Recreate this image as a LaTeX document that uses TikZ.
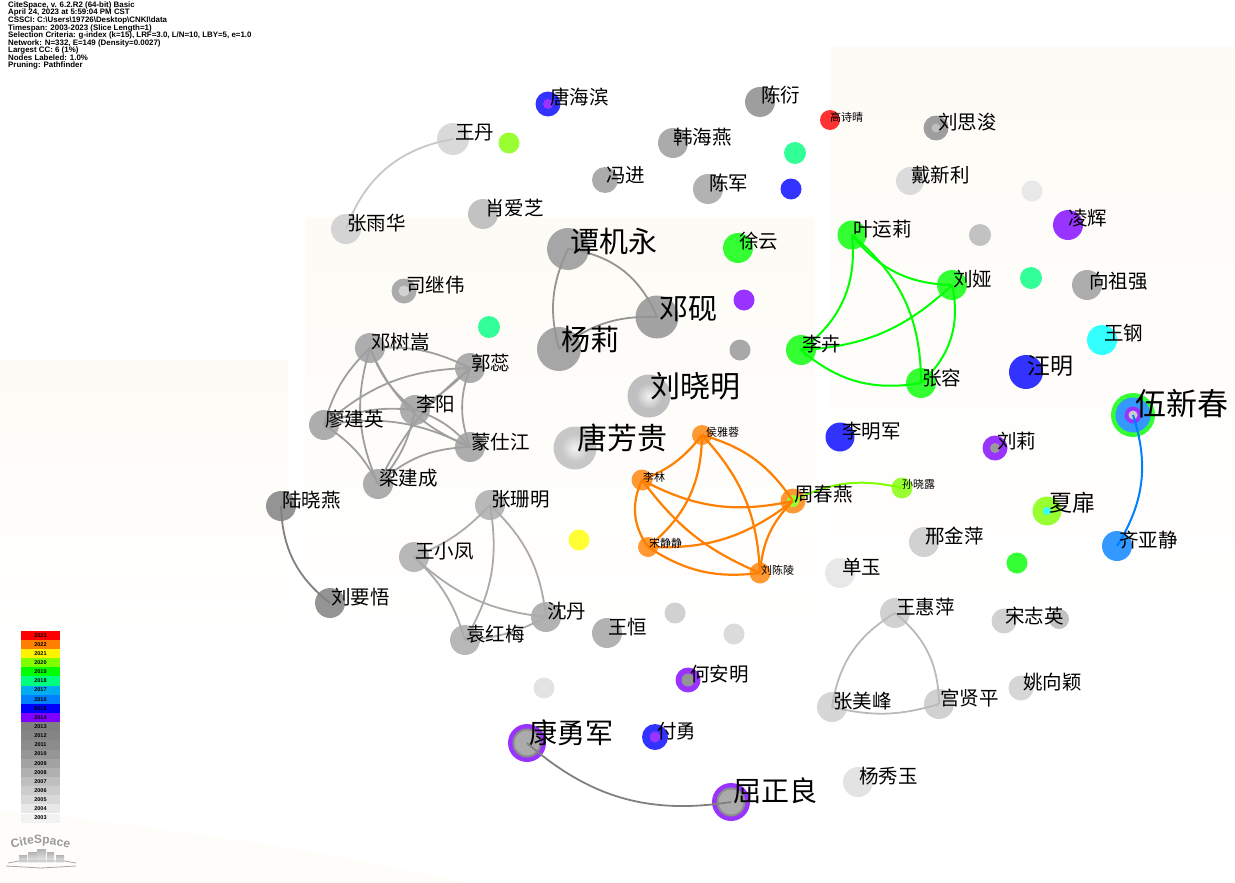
\documentclass[tikz,border=0pt]{standalone}
\usepackage{fontspec}
\setmainfont{Liberation Sans}
\newfontfamily\cjk{Noto Sans CJK SC}
\usetikzlibrary{decorations.text}
\definecolor{paper}{RGB}{253,251,245}
\definecolor{citred}{RGB}{255,51,51}
\definecolor{citorange}{RGB}{255,153,51}
\definecolor{cityellow}{RGB}{255,255,51}
\definecolor{citlime}{RGB}{153,255,51}
\definecolor{citgreen}{RGB}{51,255,51}
\definecolor{citteal}{RGB}{51,255,153}
\definecolor{citcyan}{RGB}{51,255,255}
\definecolor{citsky}{RGB}{51,153,255}
\definecolor{citblue}{RGB}{51,51,255}
\definecolor{citpurple}{RGB}{153,51,255}
\definecolor{yorange}{RGB}{255,128,0}
\definecolor{ylime}{RGB}{128,255,0}
\definecolor{yteal}{RGB}{0,255,128}
\definecolor{ysky}{RGB}{0,128,255}
\definecolor{ypurple}{RGB}{128,0,255}
\tikzset{
    author/.style={circle, inner sep=0pt, draw=none},
    tagS/.style={anchor=west, inner sep=0pt, font=\cjk\fontsize{11}{11}\selectfont},
    tagM/.style={anchor=west, inner sep=0pt, font=\cjk\fontsize{19.5}{19.5}\selectfont},
    tagL/.style={anchor=west, inner sep=0pt, font=\cjk\fontsize{23}{23}\selectfont},
    tagX/.style={anchor=west, inner sep=0pt, font=\cjk\fontsize{29}{29}\selectfont},
    link/.style={line width=1.8pt, gray!75},
    glink/.style={line width=2pt, green},
    olink/.style={line width=2.2pt, yorange},
    legbox/.style={rectangle, inner sep=0pt, minimum width=39pt, minimum height=9.14pt, font=\bfseries\fontsize{5.5}{5.5}\selectfont}
}
\begin{document}
\begin{tikzpicture}[x=1pt,y=-1pt]
    \useasboundingbox (0,0) rectangle (1235,883);
    % background patches
    \shade[top color=paper, bottom color=white, draw=none] (305,217) rectangle (815,640);
    \shade[top color=paper, bottom color=white, draw=none] (830,48) rectangle (1235,620);
    \shade[top color=paper, bottom color=white, draw=none] (0,360) rectangle (288,640);
    \fill[paper!60] (0,810) .. controls (150,825) and (320,850) .. (470,883) -- (0,883) -- cycle;

    % header
    \node[anchor=north west, inner sep=0pt, align=left, font=\bfseries\fontsize{7.9}{7.55}\selectfont] (head) at (8,1.5) {CiteSpace, v. 6.2.R2 (64-bit) Basic\\April 24, 2023 at 5:59:04 PM CST\\CSSCI: C:\textbackslash Users\textbackslash 19726\textbackslash Desktop\textbackslash CNKI\textbackslash data\\Timespan: 2003-2023 (Slice Length=1)\\Selection Criteria: g-index (k=15), LRF=3.0, L/N=10, LBY=5, e=1.0\\Network: N=332, E=149 (Density=0.0027)\\Largest CC: 6 (1\%)\\Nodes Labeled: 1.0\%\\Pruning: Pathfinder};

    % legend
    \node[legbox, fill=red] (y23) at (40.5,635.3) {2023};
    \node[legbox, fill=yorange] (y22) at (40.5,644.4) {2022};
    \node[legbox, fill=yellow] (y21) at (40.5,653.6) {2021};
    \node[legbox, fill=ylime] (y20) at (40.5,662.7) {2020};
    \node[legbox, fill=green] (y19) at (40.5,671.8) {2019};
    \node[legbox, fill=yteal] (y18) at (40.5,681) {2018};
    \node[legbox, fill=cyan] (y17) at (40.5,690.1) {2017};
    \node[legbox, fill=ysky] (y16) at (40.5,699.3) {2016};
    \node[legbox, fill=blue] (y15) at (40.5,708.4) {2015};
    \node[legbox, fill=ypurple] (y14) at (40.5,717.5) {2014};
    \node[legbox, fill=black!50] (y13) at (40.5,726.7) {2013};
    \node[legbox, fill=black!48] (y12) at (40.5,735.8) {2012};
    \node[legbox, fill=black!45] (y11) at (40.5,745) {2011};
    \node[legbox, fill=black!41] (y10) at (40.5,754.1) {2010};
    \node[legbox, fill=black!36] (y09) at (40.5,763.2) {2009};
    \node[legbox, fill=black!31] (y08) at (40.5,772.4) {2008};
    \node[legbox, fill=black!25] (y07) at (40.5,781.5) {2007};
    \node[legbox, fill=black!20] (y06) at (40.5,790.7) {2006};
    \node[legbox, fill=black!15] (y05) at (40.5,799.8) {2005};
    \node[legbox, fill=black!9] (y04) at (40.5,808.9) {2004};
    \node[legbox, fill=black!5] (y03) at (40.5,818.1) {2003};

    % logo
    \path[decorate, decoration={text along path, text align=center, text color=gray!80, text={|\bfseries\fontsize{12}{12}\selectfont|CiteSpace}}] (11,849) .. controls (30,842) and (50,842) .. (70,849);
    \shade[top color=gray!60, bottom color=gray!15] (19,855) rectangle (27,862);
    \shade[top color=gray!60, bottom color=gray!15] (28,852) rectangle (37,862);
    \shade[top color=gray!60, bottom color=gray!15] (37,849) rectangle (46,862);
    \shade[top color=gray!60, bottom color=gray!15] (47,852) rectangle (54,862);
    \shade[top color=gray!60, bottom color=gray!15] (56,855) rectangle (64,862);
    \draw[gray!70, line width=0.8pt] (6,866) -- (41,868) -- (76,866);
    \draw[gray!70, line width=0.8pt] (8,863) -- (19,861) -- (64,861) -- (76,863);

    % authors
    \node[author, minimum size=32pt, fill=black!15] (wdan) at (453,139) {};
    \node[author, minimum size=21pt, fill=citlime] (a1) at (509,143) {};
    \node[author, minimum size=25pt, fill=citblue] (thb) at (548,104) {};
    \node[author, minimum size=10pt, fill=citpurple] (thbin) at (548,104) {};
    \node[author, minimum size=30pt, fill=black!38] (cyan) at (760,102) {};
    \node[author, minimum size=20pt, fill=citred] (gsq) at (830,120) {};
    \node[author, minimum size=25pt, fill=black!38] (lsj) at (936,128) {};
    \node[author, minimum size=9pt, fill=black!25] (lsjin) at (936,128) {};
    \node[author, minimum size=30pt, fill=black!33] (hhy) at (673,143) {};
    \node[author, minimum size=26pt, fill=black!33] (fjin) at (605,180) {};
    \node[author, minimum size=30pt, fill=black!30] (cjun) at (708,189) {};
    \node[author, minimum size=22pt, fill=citteal] (a2) at (795,153) {};
    \node[author, minimum size=21pt, fill=citblue] (a3) at (791,189) {};
    \node[author, minimum size=28pt, fill=black!14] (dxl) at (910,181) {};
    \node[author, minimum size=21pt, fill=black!9] (a4) at (1032,191) {};
    \node[author, minimum size=30pt, fill=citpurple] (lhui) at (1068,225) {};
    \node[author, minimum size=30pt, fill=black!24] (xaz) at (483,214) {};
    \node[author, minimum size=30pt, fill=black!17] (zyh) at (346,229) {};
    \node[author, minimum size=42pt, fill=black!35] (tjy) at (568,249) {};
    \node[author, minimum size=30pt, fill=citgreen] (xyun) at (738,248) {};
    \node[author, minimum size=29pt, fill=citgreen] (yyl) at (852,235) {};
    \node[author, minimum size=22pt, fill=black!24] (a5) at (980,235) {};
    \node[author, minimum size=30pt, fill=citgreen] (lya) at (952,285) {};
    \node[author, minimum size=22pt, fill=citteal] (a6) at (1031,278) {};
    \node[author, minimum size=30pt, fill=black!32] (xzq) at (1087,285) {};
    \node[author, minimum size=25pt, fill=black!33] (sjw) at (404,291) {};
    \node[author, minimum size=11pt, fill=black!18] (sjwin) at (404,291) {};
    \node[author, minimum size=21pt, fill=citpurple] (a7) at (744,300) {};
    \node[author, minimum size=43pt, fill=black!36] (dyan) at (657,317) {};
    \node[author, minimum size=44pt, fill=black!35] (yli) at (559,349) {};
    \node[author, minimum size=30pt, fill=citcyan] (wgang) at (1102,340) {};
    \node[author, minimum size=22pt, fill=citteal] (a8) at (489,327) {};
    \node[author, minimum size=30pt, fill=black!32] (dss) at (370,348) {};
    \node[author, minimum size=21pt, fill=black!34] (a9) at (740,350) {};
    \node[author, minimum size=30pt, fill=citgreen] (lhui2) at (801,350) {};
    \node[author, minimum size=30pt, fill=black!32] (grui) at (470,368) {};
    \node[author, minimum size=30pt, fill=citgreen] (zrong) at (921,383) {};
    \node[author, minimum size=34pt, fill=citblue] (wming) at (1026,372) {};
    \node[author, minimum size=43pt, fill=black!25] (lxm) at (649,396) {};
    \shade[inner color=black!5, outer color=black!25] (649,396) circle (13);
    \node[author, minimum size=30pt, fill=black!32] (lyang) at (415,410) {};
    \node[author, minimum size=44pt, fill=citgreen] (wxc) at (1133,415) {};
    \node[author, minimum size=35pt, fill=citsky] (wxc2) at (1133,415) {};
    \node[author, minimum size=17pt, fill=citpurple] (wxc3) at (1133,415) {};
    \node[author, minimum size=9pt, fill=black!20] (wxc4) at (1133,415) {};
    \node[author, minimum size=30pt, fill=black!32] (ljy) at (324,425) {};
    \node[author, minimum size=30pt, fill=black!32] (msj) at (470,447) {};
    \node[author, minimum size=43pt, fill=black!22] (tfg) at (575,448) {};
    \shade[inner color=black!5, outer color=black!22] (575,448) circle (14);
    \node[author, minimum size=29pt, fill=citblue] (lmj) at (840,437) {};
    \node[author, minimum size=25pt, fill=citpurple] (lli) at (995,448) {};
    \node[author, minimum size=10pt, fill=black!40] (lliin) at (995,448) {};
    \node[author, minimum size=20pt, fill=citorange] (hyr) at (702,435) {};
    \node[author, minimum size=21pt, fill=citorange] (llin) at (642,480) {};
    \node[author, minimum size=25pt, fill=citorange] (zcy) at (793,501) {};
    \node[author, minimum size=12pt, fill=citlime] (zcyin) at (793,501) {};
    \node[author, minimum size=21pt, fill=citlime] (sxl) at (902,488) {};
    \node[author, minimum size=30pt, fill=black!32] (ljc) at (378,484) {};
    \node[author, minimum size=30pt, fill=black!42] (lxy) at (281,506) {};
    \node[author, minimum size=30pt, fill=black!28] (zsm) at (490,505) {};
    \node[author, minimum size=29pt, fill=citlime] (xfei) at (1047,511) {};
    \node[author, minimum size=8pt, fill=citcyan] (xfeiin) at (1047,511) {};
    \node[author, minimum size=30pt, fill=black!18] (xjp) at (924,542) {};
    \node[author, minimum size=30pt, fill=citsky] (qyj) at (1117,546) {};
    \node[author, minimum size=21pt, fill=cityellow] (a10) at (579,540) {};
    \node[author, minimum size=20pt, fill=citorange] (sjj) at (648,547) {};
    \node[author, minimum size=30pt, fill=black!28] (wxf) at (414,557) {};
    \node[author, minimum size=21pt, fill=citgreen] (a11) at (1017,563) {};
    \node[author, minimum size=21pt, fill=citorange] (lcl) at (760,573) {};
    \node[author, minimum size=30pt, fill=black!9] (syu) at (840,573) {};
    \node[author, minimum size=30pt, fill=black!42] (lyw) at (330,603) {};
    \node[author, minimum size=30pt, fill=black!18] (whp) at (895,613) {};
    \node[author, minimum size=25pt, fill=black!18] (szy) at (1004,621) {};
    \node[author, minimum size=20pt, fill=black!24] (a12) at (1059,619) {};
    \node[author, minimum size=30pt, fill=black!30] (sdan) at (546,617) {};
    \node[author, minimum size=21pt, fill=black!18] (a13) at (675,613) {};
    \node[author, minimum size=30pt, fill=black!30] (wheng) at (607,633) {};
    \node[author, minimum size=30pt, fill=black!28] (yhm) at (465,640) {};
    \node[author, minimum size=21pt, fill=black!14] (a14) at (734,634) {};
    \node[author, minimum size=25pt, fill=citpurple] (ham) at (688,680) {};
    \node[author, minimum size=13pt, fill=black!42] (hamin) at (688,680) {};
    \node[author, minimum size=25pt, fill=black!16] (yxy) at (1021,688) {};
    \node[author, minimum size=21pt, fill=black!11] (a15) at (544,688) {};
    \node[author, minimum size=30pt, fill=black!16] (zmf) at (832,707) {};
    \node[author, minimum size=30pt, fill=black!18] (gxp) at (939,704) {};
    \node[author, minimum size=38pt, fill=citpurple] (kyj) at (527,743) {};
    \node[author, minimum size=29pt, fill=black!45] (kyj2) at (527,743) {};
    \node[author, minimum size=25pt, fill=black!33] (kyj3) at (527,743) {};
    \node[author, minimum size=26pt, fill=citblue] (fyong) at (655,737) {};
    \node[author, minimum size=11pt, fill=citpurple] (fyongin) at (655,737) {};
    \node[author, minimum size=38pt, fill=citpurple] (qzl) at (731,802) {};
    \node[author, minimum size=29pt, fill=black!45] (qzl2) at (731,802) {};
    \node[author, minimum size=25pt, fill=black!33] (qzl3) at (731,802) {};
    \node[author, minimum size=30pt, fill=black!11] (yxyu) at (858,782) {};

    % links, gray clusters
    \draw[link, black!22] (zyh.center) to[bend left=30] (wdan.center);
    \draw[link, black!42] (tjy.center) to[bend left=30] (dyan.center);
    \draw[link, black!42] (yli.center) to[bend left=20] (dyan.center);
    \draw[link, black!42] (tjy.center) to[bend right=20] (yli.center);
    \draw[link] (dss.center) to[bend left=15] (grui.center);
    \draw[link] (dss.center) to[bend right=15] (lyang.center);
    \draw[link] (dss.center) to[bend right=22] (msj.center);
    \draw[link] (dss.center) to[bend right=15] (ljy.center);
    \draw[link] (dss.center) to[bend right=20] (ljc.center);
    \draw[link] (grui.center) to[bend left=8] (lyang.center);
    \draw[link] (grui.center) to[bend right=12] (ljc.center);
    \draw[link] (grui.center) to[bend right=20] (ljy.center);
    \draw[link] (grui.center) to[bend right=20] (msj.center);
    \draw[link] (lyang.center) to[bend right=15] (ljy.center);
    \draw[link] (ljy.center) to[bend left=18] (msj.center);
    \draw[link] (lyang.center) to[bend left=15] (msj.center);
    \draw[link] (lyang.center) to[bend left=15] (ljc.center);
    \draw[link] (ljy.center) to[bend left=15] (ljc.center);
    \draw[link] (ljc.center) to[bend left=20] (msj.center);
    \draw[link, black!33] (zsm.center) to[bend left=12] (wxf.center);
    \draw[link, black!33] (zsm.center) to[bend left=20] (sdan.center);
    \draw[link, black!33] (zsm.center) to[bend left=20] (yhm.center);
    \draw[link, black!33] (wxf.center) to[bend right=18] (sdan.center);
    \draw[link, black!33] (wxf.center) to[bend left=15] (yhm.center);
    \draw[link, black!33] (yhm.center) to[bend right=12] (sdan.center);
    \draw[link, black!50] (lxy.center) to[bend right=25] (lyw.center);
    \draw[link, black!27] (whp.center) to[bend right=25] (zmf.center);
    \draw[link, black!27] (whp.center) to[bend left=25] (gxp.center);
    \draw[link, black!27] (zmf.center) to[bend right=15] (gxp.center);
    \draw[link, black!50] (kyj.center) to[bend right=25] (qzl.center);

    % links, coloured clusters
    \draw[glink] (yyl.center) to[bend left=30] (lhui2.center);
    \draw[glink] (yyl.center) to[bend right=25] (lya.center);
    \draw[glink] (yyl.center) to[bend left=25] (zrong.center);
    \draw[glink] (lya.center) to[bend left=20] (lhui2.center);
    \draw[glink] (lya.center) to[bend left=30] (zrong.center);
    \draw[glink] (lhui2.center) to[bend right=25] (zrong.center);
    \draw[olink] (hyr.center) to[bend left=15] (llin.center);
    \draw[olink] (hyr.center) to[bend left=25] (sjj.center);
    \draw[olink] (hyr.center) to[bend left=20] (zcy.center);
    \draw[olink] (hyr.center) to[bend left=20] (lcl.center);
    \draw[olink] (llin.center) to[bend right=20] (zcy.center);
    \draw[olink] (llin.center) to[bend right=30] (sjj.center);
    \draw[olink] (llin.center) to[bend right=15] (lcl.center);
    \draw[olink] (sjj.center) to[bend right=20] (zcy.center);
    \draw[olink] (sjj.center) to[bend right=20] (lcl.center);
    \draw[olink] (lcl.center) to[bend left=20] (zcy.center);
    \draw[glink, ylime] (zcy.center) to[bend left=20] (sxl.center);
    \draw[glink, ysky] (wxc.center) to[bend left=25] (qyj.center);

    % labels
    \node[tagM] (twdan) at (455,133) {王丹};
    \node[tagM] (tthb) at (550,97) {唐海滨};
    \node[tagM] (tcyan) at (761,95) {陈衍};
    \node[tagS] (tgsq) at (830,117) {高诗晴};
    \node[tagM] (tlsj) at (938,122) {刘思浚};
    \node[tagM] (thhy) at (673,137) {韩海燕};
    \node[tagM] (tfjin) at (606,175) {冯进};
    \node[tagM] (tcjun) at (709,183) {陈军};
    \node[tagM] (tdxl) at (911,175) {戴新利};
    \node[tagM] (tlhui) at (1068,218) {凌辉};
    \node[tagM] (txaz) at (485,208) {肖爱芝};
    \node[tagM] (tzyh) at (347,223) {张雨华};
    \node[tagX] (ttjy) at (570,241) {谭机永};
    \node[tagM] (txyun) at (739,241) {徐云};
    \node[tagM] (tyyl) at (853,229) {叶运莉};
    \node[tagM] (tlya) at (953,279) {刘娅};
    \node[tagM] (txzq) at (1089,281) {向祖强};
    \node[tagM] (tsjw) at (406,285) {司继伟};
    \node[tagX] (tdyan) at (659,309) {邓砚};
    \node[tagX] (tyli) at (561,339) {杨莉};
    \node[tagM] (twgang) at (1104,333) {王钢};
    \node[tagM] (tdss) at (371,342) {邓树嵩};
    \node[tagM] (tlhui2) at (802,344) {李卉};
    \node[tagM] (tgrui) at (471,363) {郭蕊};
    \node[tagM] (tzrong) at (922,378) {张容};
    \node[tagL] (twming) at (1027,366) {汪明};
    \node[tagX, font=\cjk\fontsize{30}{30}\selectfont] (tlxm) at (650,386) {刘晓明};
    \node[tagM] (tlyang) at (416,404) {李阳};
    \node[tagX, font=\cjk\fontsize{31}{31}\selectfont] (twxc) at (1135,404) {伍新春};
    \node[tagM] (tljy) at (325,419) {廖建英};
    \node[tagM] (tmsj) at (471,442) {蒙仕江};
    \node[tagX, font=\cjk\fontsize{30}{30}\selectfont] (ttfg) at (577,438) {唐芳贵};
    \node[tagM] (tlmj) at (842,431) {李明军};
    \node[tagM] (tlli) at (997,441) {刘莉};
    \node[tagS] (thyr) at (706,432) {侯雅蓉};
    \node[tagS] (tllin) at (643,477) {李林};
    \node[tagM] (tzcy) at (794,494) {周春燕};
    \node[tagS] (tsxl) at (902,484) {孙晓露};
    \node[tagM] (tljc) at (379,478) {梁建成};
    \node[tagM] (tlxy) at (282,500) {陆晓燕};
    \node[tagM] (tzsm) at (491,499) {张珊明};
    \node[tagL] (txfei) at (1049,503) {夏扉};
    \node[tagM] (txjp) at (925,536) {邢金萍};
    \node[tagM] (tqyj) at (1119,540) {齐亚静};
    \node[tagS] (tsjj) at (649,543) {宋静静};
    \node[tagM] (twxf) at (415,551) {王小凤};
    \node[tagS] (tlcl) at (761,570) {刘陈陵};
    \node[tagM] (tsyu) at (842,567) {单玉};
    \node[tagM] (tlyw) at (331,597) {刘要悟};
    \node[tagM] (twhp) at (896,607) {王惠萍};
    \node[tagM] (tszy) at (1005,616) {宋志英};
    \node[tagM] (tsdan) at (547,611) {沈丹};
    \node[tagM] (twheng) at (608,627) {王恒};
    \node[tagM] (tyhm) at (466,634) {袁红梅};
    \node[tagM] (tham) at (690,674) {何安明};
    \node[tagM] (tyxy) at (1023,682) {姚向颖};
    \node[tagM] (tzmf) at (833,701) {张美峰};
    \node[tagM] (tgxp) at (940,698) {宫贤平};
    \node[tagX, font=\cjk\fontsize{28}{28}\selectfont] (tkyj) at (529,733) {康勇军};
    \node[tagM] (tfyong) at (657,731) {付勇};
    \node[tagX, font=\cjk\fontsize{28}{28}\selectfont] (tqzl) at (733,791) {屈正良};
    \node[tagM] (tyxyu) at (859,776) {杨秀玉};
\end{tikzpicture}
\end{document}
